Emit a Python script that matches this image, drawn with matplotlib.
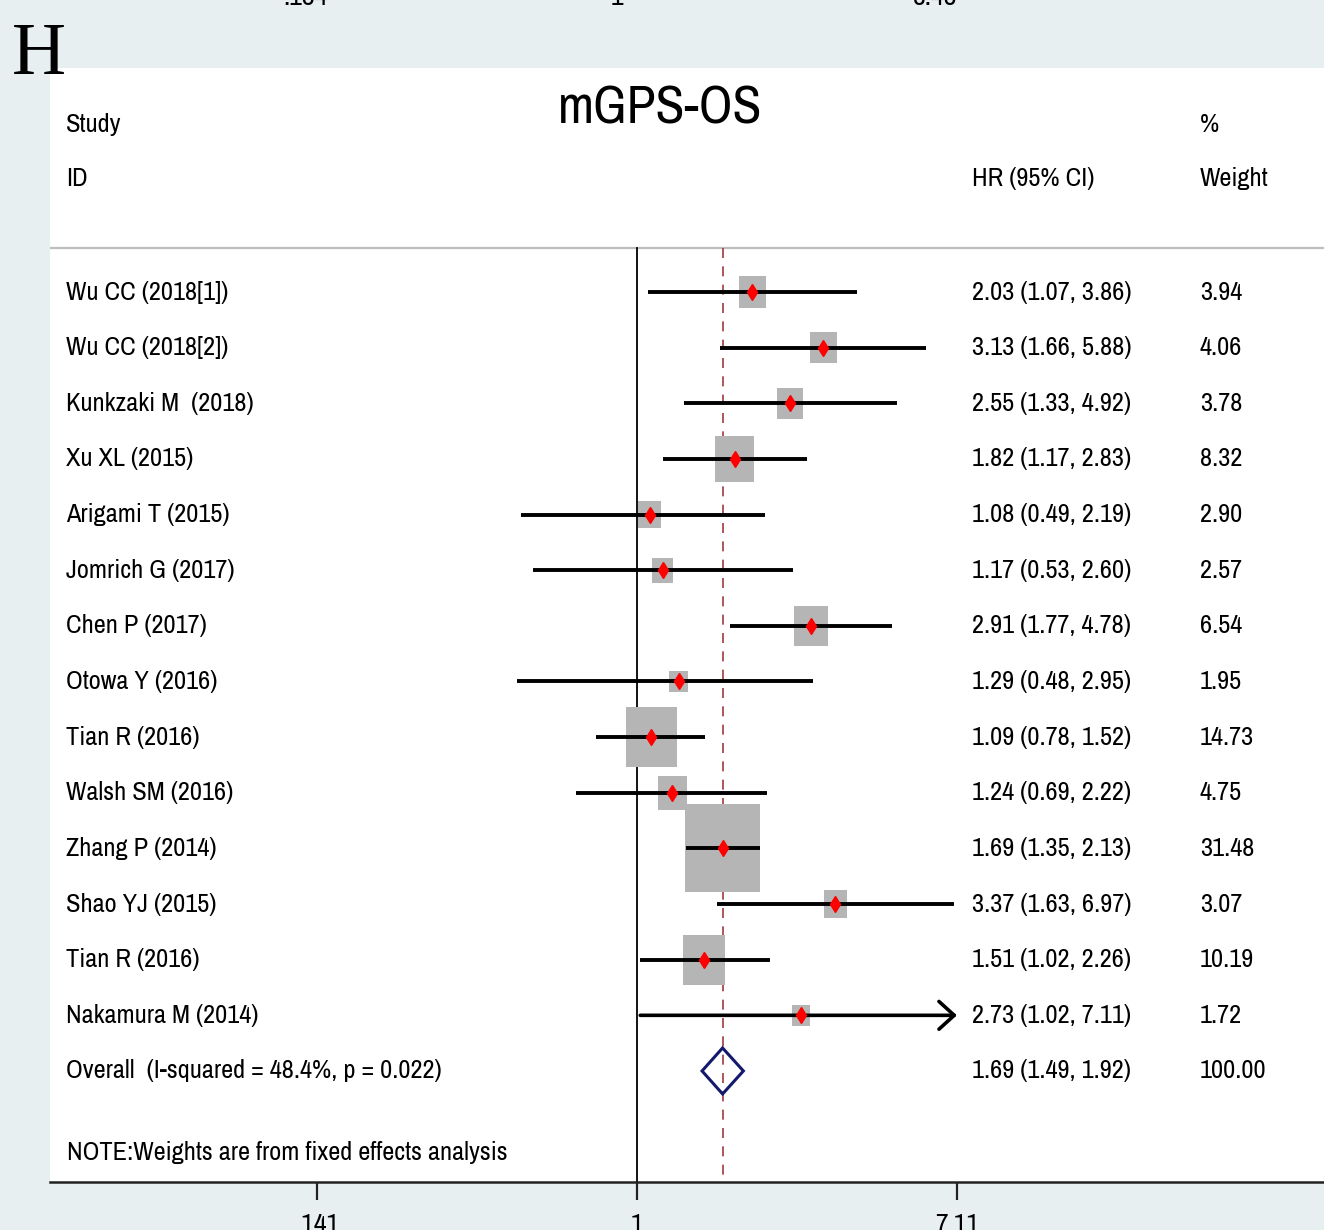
import numpy as np
import matplotlib
matplotlib.use("Agg")
import matplotlib.pyplot as plt
from matplotlib import font_manager
from matplotlib.patches import Rectangle, Polygon

# study-level hazard ratios (mGPS and overall survival)
studies = ["Wu CC (2018[1])", "Wu CC (2018[2])", "Kunkzaki M  (2018)", "Xu XL (2015)",
           "Arigami T (2015)", "Jomrich G (2017)", "Chen P (2017)", "Otowa Y (2016)",
           "Tian R (2016)", "Walsh SM (2016)", "Zhang P (2014)", "Shao YJ (2015)",
           "Tian R (2016)", "Nakamura M (2014)"]
hr = [2.03, 3.13, 2.55, 1.82, 1.08, 1.17, 2.91, 1.29, 1.09, 1.24, 1.69, 3.37, 1.51, 2.73]
lower = [1.07, 1.66, 1.33, 1.17, 0.49, 0.53, 1.77, 0.48, 0.78, 0.69, 1.35, 1.63, 1.02, 1.02]
upper = [3.86, 5.88, 4.92, 2.83, 2.19, 2.60, 4.78, 2.95, 1.52, 2.22, 2.13, 6.97, 2.26, 7.11]
weight = [3.94, 4.06, 3.78, 8.32, 2.90, 2.57, 6.54, 1.95, 14.73, 4.75, 31.48, 3.07, 10.19, 1.72]

overall_label = "Overall  (I-squared = 48.4%, p = 0.022)"
overall = (1.69, 1.49, 1.92)
ticks = [0.141, 1, 7.11]
tick_labels = [".141", "1", "7.11"]
x_min, x_max = 0.141, 7.11

# pick a condensed Arial-like face if one is installed
installed = {f.name for f in font_manager.fontManager.ttflist}
narrow_face = next((n for n in ["Liberation Sans Narrow", "Arial Narrow", "Archivo Narrow",
                                "PT Sans Narrow", "Roboto Condensed", "Pragati Narrow",
                                "IBM Plex Sans Condensed", "Fira Sans Condensed",
                                "Liberation Sans"] if n in installed), "DejaVu Sans")
narrow = [narrow_face, "DejaVu Sans"]

W, H = 1324, 1230
fig = plt.figure(figsize=(W / 100, H / 100), dpi=100)
fig.patch.set_facecolor("#e7eff1")

# panel: white plotting area with log-scaled x axis
left, right, top, bottom = 50, 1324, 68, 1182
ax = fig.add_axes([left / W, 1 - bottom / H, (right - left) / W, (bottom - top) / H])
ax.set_facecolor("white")
ax.set_xscale("log")
ppl = 163.1  # pixels per log unit
ax.set_xlim(np.exp(-(637 - left) / ppl), np.exp((right - 637) / ppl))
row_px = 55.64
ax.set_ylim((bottom - 292) / row_px, (top - 292) / row_px)

for s in ["top", "right", "left"]:
    ax.spines[s].set_visible(False)
ax.spines["bottom"].set_linewidth(1.8)
ax.spines["bottom"].set_color("#222222")
ax.set_yticks([])
ax.set_xticks(ticks)
ax.set_xticklabels(tick_labels, family=narrow, fontsize=20)
ax.xaxis.set_minor_locator(matplotlib.ticker.NullLocator())
ax.tick_params(axis="x", length=13, width=1.6, pad=9, color="#222222")

sep = (248 - 292) / row_px
ax.axhline(sep, color="#bdbdbd", lw=1.6)
ax.plot([1, 1], [sep, ax.get_ylim()[0]], color="black", lw=1.3)
ax.plot([overall[0]] * 2, [sep, ax.get_ylim()[0]], color="#a0393f", lw=1.2,
        ls=(0, (6, 5)))

for i in range(len(studies)):
    side_w = 13.3 * np.sqrt(weight[i]) / ppl / 2
    side_h = 15.7 * np.sqrt(weight[i]) / row_px
    lo_b = hr[i] * np.exp(-side_w)
    hi_b = hr[i] * np.exp(side_w)
    ax.add_patch(Rectangle((lo_b, i - side_h / 2), hi_b - lo_b, side_h,
                           facecolor="#b5b5b5", edgecolor="none", zorder=2))
    if upper[i] >= x_max:
        ax.annotate("", xy=(x_max, i), xytext=(lower[i], i),
                    arrowprops=dict(arrowstyle="->,head_length=0.55,head_width=0.5",
                                    lw=2.6, color="black", shrinkA=0, shrinkB=0,
                                    mutation_scale=20), zorder=3)
    else:
        ax.plot([lower[i], upper[i]], [i, i], color="black", lw=2.8,
                solid_capstyle="butt", zorder=3)
    ax.plot(hr[i], i, marker="d", color="red", markersize=8.5, mec="red", zorder=4)

# pooled estimate diamond
o = len(studies)
est, olo, ohi = overall
hh = 23 / row_px
ax.add_patch(Polygon([(olo, o), (est, o - hh), (ohi, o), (est, o + hh)],
                     closed=True, fill=False, edgecolor="#141a6b", lw=2.2, zorder=4))

# text columns
tx = ax.get_yaxis_transform()
def col(px):
    return (px - left) / (right - left)

fs = 19
def put(px, row, s, **kw):
    ax.text(col(px), row, s, transform=tx, family=narrow, fontsize=kw.pop("size", fs),
            va="center", **kw)

for i, name in enumerate(studies):
    put(66, i, name)
    put(972, i, f"{hr[i]:.2f} ({lower[i]:.2f}, {upper[i]:.2f})")
    put(1200, i, f"{weight[i]:.2f}")
put(66, o, overall_label)
put(972, o, f"{est:.2f} ({olo:.2f}, {ohi:.2f})")
put(1200, o, "100.00")
put(67, (1153 - 292) / row_px, "NOTE:Weights are from fixed effects analysis")

# headers
r1 = (124 - 292) / row_px
r2 = (179 - 292) / row_px
put(66, r1, "Study")
put(66, r2, "ID")
put(972, r2, "HR (95% CI)")
put(1200, r1, "%")
put(1200, r2, "Weight")
put(660, (109 - 292) / row_px, "mGPS-OS", size=38, ha="center")

# panel letter and the cut-off axis labels of the panel above
fig.text(12 / W, 1 - 56 / H, "H", family=["Liberation Serif", "DejaVu Serif"],
         fontsize=54, va="center", ha="left")
for xp, lab in [(305, ".134"), (617, "1"), (935, "8.48")]:
    fig.text(xp / W, 1 - 5 / H, lab, family=narrow, fontsize=20, ha="center",
             va="baseline")

fig.savefig("out.png", dpi=100, facecolor=fig.get_facecolor())
